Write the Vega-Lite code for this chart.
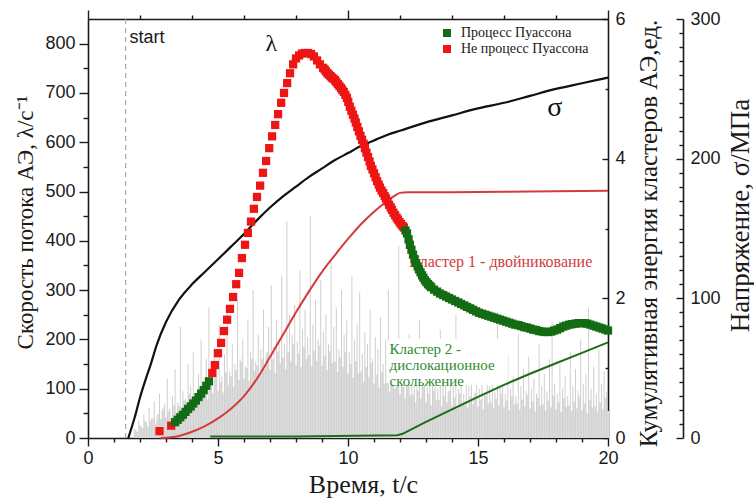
{
  "$schema": "https://vega.github.io/schema/vega-lite/v6.json",
  "width": 520,
  "height": 419,
  "autosize": {"type": "none"},
  "padding": {"left": 88, "top": 19, "right": 146, "bottom": 62},
  "background": "white",
  "config": {
    "font": "Liberation Sans",
    "view": {"stroke": null},
    "axis": {
      "domainColor": "#1a1a1a", "tickColor": "#1a1a1a", "labelColor": "#1a1a1a", "titleColor": "#1a1a1a",
      "domainWidth": 1.6, "tickWidth": 1.4, "labelFont": "Liberation Sans", "labelFontSize": 18,
      "titleFont": "Liberation Serif", "titleFontWeight": "normal", "grid": false, "labelFlush": false, "labelOverlap": false
    }
  },
  "datasets": {
    "gbase": [
      {"t":1.8,"a":18},{"t":1.9,"a":12},{"t":2.0,"a":26},{"t":2.1,"a":20},{"t":2.2,"a":34},{"t":2.3,"a":22},{"t":2.4,"a":34},
      {"t":2.5,"a":40},{"t":2.6,"a":28},{"t":2.7,"a":48},{"t":2.8,"a":38},{"t":2.9,"a":60},{"t":3.0,"a":42},{"t":3.1,"a":55},{"t":3.2,"a":40},{"t":3.3,"a":66},{"t":3.4,"a":52},
      {"t":3.5,"a":65},{"t":3.6,"a":52},{"t":3.7,"a":76},{"t":3.8,"a":64},{"t":3.9,"a":90},{"t":4.0,"a":66},{"t":4.1,"a":84},{"t":4.2,"a":64},{"t":4.3,"a":100},{"t":4.4,"a":84},
      {"t":4.5,"a":95},{"t":4.6,"a":78},{"t":4.7,"a":108},{"t":4.8,"a":90},{"t":4.9,"a":124},{"t":5.0,"a":96},{"t":5.1,"a":114},{"t":5.2,"a":92},{"t":5.3,"a":132},{"t":5.4,"a":108},
      {"t":5.5,"a":125},{"t":5.6,"a":104},{"t":5.7,"a":138},{"t":5.8,"a":118},{"t":5.9,"a":155},{"t":6.0,"a":120},{"t":6.1,"a":142},{"t":6.2,"a":116},{"t":6.3,"a":160},{"t":6.4,"a":136},
      {"t":6.5,"a":148},{"t":6.6,"a":126},{"t":6.7,"a":160},{"t":6.8,"a":140},{"t":6.9,"a":174},{"t":7.0,"a":138},{"t":7.1,"a":160},{"t":7.2,"a":132},{"t":7.3,"a":176},{"t":7.4,"a":152},
      {"t":7.5,"a":163},{"t":7.6,"a":140},{"t":7.7,"a":175},{"t":7.8,"a":155},{"t":7.9,"a":190},{"t":8.0,"a":148},{"t":8.1,"a":172},{"t":8.2,"a":144},{"t":8.3,"a":185},{"t":8.4,"a":160},
      {"t":8.5,"a":168},{"t":8.6,"a":146},{"t":8.7,"a":178},{"t":8.8,"a":156},{"t":8.9,"a":188},{"t":9.0,"a":146},{"t":9.1,"a":166},{"t":9.2,"a":138},{"t":9.3,"a":176},{"t":9.4,"a":152},
      {"t":9.5,"a":155},{"t":9.6,"a":134},{"t":9.7,"a":164},{"t":9.8,"a":144},{"t":9.9,"a":174},{"t":10.0,"a":130},{"t":10.1,"a":150},{"t":10.2,"a":122},{"t":10.3,"a":156},{"t":10.4,"a":132},
      {"t":10.5,"a":135},{"t":10.6,"a":114},{"t":10.7,"a":144},{"t":10.8,"a":124},{"t":10.9,"a":152},{"t":11.0,"a":110},{"t":11.1,"a":128},{"t":11.2,"a":102},{"t":11.3,"a":134},{"t":11.4,"a":110},
      {"t":11.5,"a":112},{"t":11.6,"a":94},{"t":11.7,"a":120},{"t":11.8,"a":100},{"t":11.9,"a":128},{"t":12.0,"a":88},{"t":12.1,"a":104},{"t":12.2,"a":80},{"t":12.3,"a":108},{"t":12.4,"a":86},
      {"t":12.5,"a":88},{"t":12.6,"a":72},{"t":12.7,"a":96},{"t":12.8,"a":80},{"t":12.9,"a":104},{"t":13.0,"a":72},{"t":13.1,"a":90},{"t":13.2,"a":66},{"t":13.3,"a":96},{"t":13.4,"a":76},
      {"t":13.5,"a":78},{"t":13.6,"a":64},{"t":13.7,"a":86},{"t":13.8,"a":72},{"t":13.9,"a":96},{"t":14.0,"a":66},{"t":14.1,"a":82},{"t":14.2,"a":60},{"t":14.3,"a":90},{"t":14.4,"a":72},
      {"t":14.5,"a":75},{"t":14.6,"a":62},{"t":14.7,"a":84},{"t":14.8,"a":68},{"t":14.9,"a":92},{"t":15.0,"a":64},{"t":15.1,"a":78},{"t":15.2,"a":58},{"t":15.3,"a":86},{"t":15.4,"a":70},
      {"t":15.5,"a":72},{"t":15.6,"a":60},{"t":15.7,"a":80},{"t":15.8,"a":66},{"t":15.9,"a":90},{"t":16.0,"a":62},{"t":16.1,"a":76},{"t":16.2,"a":56},{"t":16.3,"a":84},{"t":16.4,"a":68},
      {"t":16.5,"a":70},{"t":16.6,"a":58},{"t":16.7,"a":78},{"t":16.8,"a":64},{"t":16.9,"a":88},{"t":17.0,"a":60},{"t":17.1,"a":74},{"t":17.2,"a":54},{"t":17.3,"a":82},{"t":17.4,"a":66},
      {"t":17.5,"a":68},{"t":17.6,"a":56},{"t":17.7,"a":76},{"t":17.8,"a":62},{"t":17.9,"a":86},{"t":18.0,"a":58},{"t":18.1,"a":72},{"t":18.2,"a":52},{"t":18.3,"a":80},{"t":18.4,"a":64},
      {"t":18.5,"a":66},{"t":18.6,"a":55},{"t":18.7,"a":74},{"t":18.8,"a":60},{"t":18.9,"a":84},{"t":19.0,"a":56},{"t":19.1,"a":70},{"t":19.2,"a":50},{"t":19.3,"a":78},{"t":19.4,"a":62},
      {"t":19.5,"a":64},{"t":19.6,"a":54},{"t":19.7,"a":72},{"t":19.8,"a":58},{"t":19.9,"a":82},{"t":20.0,"a":55}
    ],
    "gray": [
      {"t":1.85,"a":15},{"t":1.95,"a":35},{"t":2.05,"a":22},{"t":2.15,"a":48},{"t":2.25,"a":30},{"t":2.35,"a":62},{"t":2.45,"a":40},{"t":2.55,"a":75},{"t":2.65,"a":38},{"t":2.75,"a":90},
      {"t":2.85,"a":55},{"t":2.95,"a":70},{"t":3.05,"a":120},{"t":3.15,"a":60},{"t":3.25,"a":85},{"t":3.35,"a":140},{"t":3.45,"a":72},{"t":3.55,"a":225},{"t":3.65,"a":95},{"t":3.75,"a":80},
      {"t":3.85,"a":150},{"t":3.95,"a":105},{"t":4.05,"a":175},{"t":4.15,"a":90},{"t":4.25,"a":130},{"t":4.35,"a":200},{"t":4.45,"a":110},{"t":4.55,"a":160},{"t":4.65,"a":265},{"t":4.75,"a":120},
      {"t":4.85,"a":185},{"t":4.95,"a":140},{"t":5.05,"a":230},{"t":5.15,"a":125},{"t":5.25,"a":170},{"t":5.35,"a":255},{"t":5.45,"a":135},{"t":5.55,"a":190},{"t":5.65,"a":150},{"t":5.75,"a":280},
      {"t":5.85,"a":160},{"t":5.95,"a":200},{"t":6.05,"a":145},{"t":6.15,"a":240},{"t":6.25,"a":175},{"t":6.35,"a":300},{"t":6.45,"a":155},{"t":6.55,"a":210},{"t":6.65,"a":180},{"t":6.75,"a":260},
      {"t":6.85,"a":165},{"t":6.95,"a":225},{"t":7.05,"a":310},{"t":7.15,"a":185},{"t":7.25,"a":240},{"t":7.35,"a":200},{"t":7.45,"a":330},{"t":7.55,"a":190},{"t":7.65,"a":440},{"t":7.75,"a":250},
      {"t":7.85,"a":210},{"t":7.95,"a":270},{"t":8.05,"a":195},{"t":8.15,"a":340},{"t":8.25,"a":220},{"t":8.35,"a":260},{"t":8.45,"a":205},{"t":8.55,"a":450},{"t":8.65,"a":230},{"t":8.75,"a":280},
      {"t":8.85,"a":200},{"t":8.95,"a":320},{"t":9.05,"a":215},{"t":9.15,"a":250},{"t":9.25,"a":190},{"t":9.35,"a":360},{"t":9.45,"a":225},{"t":9.55,"a":265},{"t":9.65,"a":180},{"t":9.75,"a":300},
      {"t":9.85,"a":210},{"t":9.95,"a":240},{"t":10.05,"a":175},{"t":10.15,"a":330},{"t":10.25,"a":200},{"t":10.35,"a":230},{"t":10.45,"a":295},{"t":10.55,"a":170},{"t":10.65,"a":215},{"t":10.75,"a":190},
      {"t":10.85,"a":260},{"t":10.95,"a":160},{"t":11.05,"a":205},{"t":11.15,"a":180},{"t":11.25,"a":245},{"t":11.35,"a":150},{"t":11.45,"a":200},{"t":11.55,"a":300},{"t":11.65,"a":165},{"t":11.75,"a":190},
      {"t":11.85,"a":140},{"t":11.95,"a":390},{"t":12.05,"a":150},{"t":12.15,"a":175},{"t":12.25,"a":125},{"t":12.35,"a":210},{"t":12.45,"a":130},{"t":12.55,"a":160},{"t":12.65,"a":115},{"t":12.75,"a":240},
      {"t":12.85,"a":125},{"t":12.95,"a":150},{"t":13.05,"a":105},{"t":13.15,"a":190},{"t":13.25,"a":120},{"t":13.35,"a":140},{"t":13.45,"a":100},{"t":13.55,"a":220},{"t":13.65,"a":115},{"t":13.75,"a":135},
      {"t":13.85,"a":95},{"t":13.95,"a":170},{"t":14.05,"a":110},{"t":14.15,"a":250},{"t":14.25,"a":100},{"t":14.35,"a":125},{"t":14.45,"a":90},{"t":14.55,"a":160},{"t":14.65,"a":105},{"t":14.75,"a":130},
      {"t":14.85,"a":85},{"t":14.95,"a":200},{"t":15.05,"a":100},{"t":15.15,"a":120},{"t":15.25,"a":90},{"t":15.35,"a":150},{"t":15.45,"a":105},{"t":15.55,"a":180},{"t":15.65,"a":95},{"t":15.75,"a":255},
      {"t":15.85,"a":110},{"t":15.95,"a":130},{"t":16.05,"a":90},{"t":16.15,"a":170},{"t":16.25,"a":100},{"t":16.35,"a":125},{"t":16.45,"a":85},{"t":16.55,"a":210},{"t":16.65,"a":105},{"t":16.75,"a":140},
      {"t":16.85,"a":95},{"t":16.95,"a":165},{"t":17.05,"a":100},{"t":17.15,"a":120},{"t":17.25,"a":90},{"t":17.35,"a":190},{"t":17.45,"a":105},{"t":17.55,"a":130},{"t":17.65,"a":95},{"t":17.75,"a":160},
      {"t":17.85,"a":235},{"t":17.95,"a":110},{"t":18.05,"a":90},{"t":18.15,"a":150},{"t":18.25,"a":100},{"t":18.35,"a":125},{"t":18.45,"a":85},{"t":18.55,"a":175},{"t":18.65,"a":105},{"t":18.75,"a":140},
      {"t":18.85,"a":95},{"t":18.95,"a":200},{"t":19.05,"a":110},{"t":19.15,"a":130},{"t":19.25,"a":265},{"t":19.35,"a":100},{"t":19.45,"a":145},{"t":19.55,"a":90},{"t":19.65,"a":180},{"t":19.75,"a":110},
      {"t":19.85,"a":135},{"t":19.95,"a":95}
    ],
    "lambda": [
      {"t":2.75,"v":14,"p":"N"},{"t":3.2,"v":25,"p":"N"},
      {"t":3.35,"v":32,"p":"P"},{"t":3.45,"v":37,"p":"P"},{"t":3.55,"v":42,"p":"P"},{"t":3.65,"v":47,"p":"P"},{"t":3.75,"v":53,"p":"P"},{"t":3.85,"v":59,"p":"P"},{"t":3.95,"v":64,"p":"P"},{"t":4.05,"v":70,"p":"P"},{"t":4.15,"v":76,"p":"P"},{"t":4.25,"v":83,"p":"P"},{"t":4.35,"v":90,"p":"P"},{"t":4.45,"v":97,"p":"P"},{"t":4.55,"v":106,"p":"P"},{"t":4.65,"v":115,"p":"P"},
      {"t":4.78,"v":132,"p":"N"},{"t":4.88,"v":148,"p":"N"},{"t":5.0,"v":172,"p":"N"},{"t":5.12,"v":193,"p":"N"},{"t":5.23,"v":217,"p":"N"},{"t":5.35,"v":240,"p":"N"},{"t":5.46,"v":262,"p":"N"},{"t":5.58,"v":286,"p":"N"},{"t":5.7,"v":312,"p":"N"},{"t":5.81,"v":335,"p":"N"},
      {"t":5.92,"v":365,"p":"N"},{"t":6.04,"v":392,"p":"N"},{"t":6.15,"v":416,"p":"N"},{"t":6.27,"v":439,"p":"N"},{"t":6.38,"v":465,"p":"N"},{"t":6.5,"v":489,"p":"N"},{"t":6.62,"v":512,"p":"N"},{"t":6.73,"v":538,"p":"N"},{"t":6.85,"v":562,"p":"N"},{"t":6.97,"v":588,"p":"N"},
      {"t":7.08,"v":612,"p":"N"},{"t":7.2,"v":635,"p":"N"},{"t":7.31,"v":657,"p":"N"},{"t":7.43,"v":680,"p":"N"},{"t":7.54,"v":700,"p":"N"},{"t":7.66,"v":720,"p":"N"},{"t":7.77,"v":740,"p":"N"},{"t":7.89,"v":758,"p":"N"},{"t":8.0,"v":770,"p":"N"},{"t":8.12,"v":776,"p":"N"},
      {"t":8.23,"v":780,"p":"N"},{"t":8.35,"v":781,"p":"N"},{"t":8.46,"v":781,"p":"N"},{"t":8.58,"v":779,"p":"N"},{"t":8.69,"v":774,"p":"N"},{"t":8.81,"v":766,"p":"N"},{"t":8.92,"v":758,"p":"N"},{"t":9.04,"v":751,"p":"N"},{"t":9.1,"v":748,"p":"N"},{"t":9.15,"v":744,"p":"N"},
      {"t":9.21,"v":740,"p":"N"},{"t":9.27,"v":737,"p":"N"},{"t":9.33,"v":734,"p":"N"},{"t":9.38,"v":731,"p":"N"},{"t":9.44,"v":729,"p":"N"},{"t":9.5,"v":726,"p":"N"},{"t":9.55,"v":722,"p":"N"},{"t":9.61,"v":718,"p":"N"},{"t":9.67,"v":714,"p":"N"},{"t":9.73,"v":710,"p":"N"},
      {"t":9.78,"v":706,"p":"N"},{"t":9.84,"v":702,"p":"N"},{"t":9.9,"v":696,"p":"N"},{"t":9.96,"v":690,"p":"N"},{"t":10.01,"v":682,"p":"N"},{"t":10.07,"v":672,"p":"N"},{"t":10.13,"v":664,"p":"N"},{"t":10.19,"v":656,"p":"N"},{"t":10.25,"v":648,"p":"N"},{"t":10.3,"v":640,"p":"N"},
      {"t":10.36,"v":631,"p":"N"},{"t":10.42,"v":622,"p":"N"},{"t":10.48,"v":613,"p":"N"},{"t":10.54,"v":605,"p":"N"},{"t":10.6,"v":597,"p":"N"},{"t":10.65,"v":588,"p":"N"},{"t":10.71,"v":579,"p":"N"},{"t":10.77,"v":570,"p":"N"},{"t":10.83,"v":561,"p":"N"},{"t":10.88,"v":552,"p":"N"},
      {"t":10.94,"v":545,"p":"N"},{"t":11.0,"v":537,"p":"N"},{"t":11.06,"v":529,"p":"N"},{"t":11.12,"v":521,"p":"N"},{"t":11.18,"v":514,"p":"N"},{"t":11.23,"v":508,"p":"N"},{"t":11.29,"v":502,"p":"N"},{"t":11.35,"v":497,"p":"N"},{"t":11.41,"v":491,"p":"N"},{"t":11.46,"v":486,"p":"N"},
      {"t":11.52,"v":480,"p":"N"},{"t":11.58,"v":473,"p":"N"},{"t":11.64,"v":468,"p":"N"},{"t":11.69,"v":463,"p":"N"},{"t":11.75,"v":457,"p":"N"},{"t":11.81,"v":452,"p":"N"},{"t":11.87,"v":447,"p":"N"},{"t":11.92,"v":443,"p":"N"},{"t":11.98,"v":438,"p":"N"},{"t":12.04,"v":434,"p":"N"},
      {"t":12.1,"v":430,"p":"N"},{"t":12.15,"v":427,"p":"N"},
      {"t":12.21,"v":421,"p":"P"},{"t":12.27,"v":415,"p":"P"},{"t":12.33,"v":403,"p":"P"},{"t":12.38,"v":392,"p":"P"},{"t":12.44,"v":382,"p":"P"},{"t":12.5,"v":372,"p":"P"},{"t":12.56,"v":363,"p":"P"},{"t":12.62,"v":355,"p":"P"},{"t":12.68,"v":348,"p":"P"},{"t":12.73,"v":342,"p":"P"},
      {"t":12.79,"v":336,"p":"P"},{"t":12.85,"v":330,"p":"P"},{"t":12.9,"v":325,"p":"P"},{"t":12.96,"v":320,"p":"P"},{"t":13.02,"v":316,"p":"P"},{"t":13.08,"v":312,"p":"P"},{"t":13.14,"v":309,"p":"P"},{"t":13.2,"v":306,"p":"P"},{"t":13.31,"v":301,"p":"P"},
      {"t":13.43,"v":297,"p":"P"},{"t":13.54,"v":293,"p":"P"},{"t":13.66,"v":290,"p":"P"},{"t":13.77,"v":287,"p":"P"},{"t":13.89,"v":284,"p":"P"},{"t":14.0,"v":281,"p":"P"},{"t":14.12,"v":278,"p":"P"},{"t":14.24,"v":275,"p":"P"},{"t":14.35,"v":272,"p":"P"},{"t":14.47,"v":269,"p":"P"},
      {"t":14.58,"v":266,"p":"P"},{"t":14.7,"v":263,"p":"P"},{"t":14.81,"v":260,"p":"P"},{"t":14.93,"v":257,"p":"P"},{"t":15.04,"v":254,"p":"P"},{"t":15.16,"v":252,"p":"P"},{"t":15.28,"v":250,"p":"P"},{"t":15.39,"v":248,"p":"P"},{"t":15.51,"v":246,"p":"P"},{"t":15.62,"v":244,"p":"P"},
      {"t":15.74,"v":242,"p":"P"},{"t":15.85,"v":240,"p":"P"},{"t":15.97,"v":238,"p":"P"},{"t":16.08,"v":236,"p":"P"},{"t":16.2,"v":234,"p":"P"},{"t":16.31,"v":232,"p":"P"},{"t":16.43,"v":230,"p":"P"},{"t":16.55,"v":229,"p":"P"},{"t":16.66,"v":227,"p":"P"},{"t":16.78,"v":225,"p":"P"},
      {"t":16.89,"v":224,"p":"P"},{"t":17.01,"v":222,"p":"P"},{"t":17.12,"v":220,"p":"P"},{"t":17.24,"v":219,"p":"P"},{"t":17.35,"v":217,"p":"P"},{"t":17.47,"v":216,"p":"P"},{"t":17.58,"v":215,"p":"P"},{"t":17.7,"v":215,"p":"P"},{"t":17.82,"v":216,"p":"P"},{"t":17.93,"v":218,"p":"P"},
      {"t":18.05,"v":220,"p":"P"},{"t":18.16,"v":223,"p":"P"},{"t":18.28,"v":226,"p":"P"},{"t":18.39,"v":228,"p":"P"},{"t":18.51,"v":230,"p":"P"},{"t":18.63,"v":231,"p":"P"},{"t":18.74,"v":232,"p":"P"},{"t":18.86,"v":233,"p":"P"},{"t":18.97,"v":233,"p":"P"},{"t":19.09,"v":233,"p":"P"},
      {"t":19.2,"v":232,"p":"P"},{"t":19.32,"v":230,"p":"P"},{"t":19.44,"v":228,"p":"P"},{"t":19.55,"v":226,"p":"P"},{"t":19.67,"v":224,"p":"P"},{"t":19.78,"v":222,"p":"P"},{"t":19.9,"v":220,"p":"P"},{"t":20.0,"v":218,"p":"P"}
    ],
    "cl1": [
      {"t":2.8,"e":0},{"t":3.5,"e":0.03},{"t":4.0,"e":0.09},{"t":4.5,"e":0.17},{"t":5.0,"e":0.28},{"t":5.5,"e":0.42},{"t":6.0,"e":0.6},{"t":6.5,"e":0.85},{"t":7.0,"e":1.16},{"t":7.5,"e":1.48},
      {"t":8.0,"e":1.8},{"t":8.5,"e":2.1},{"t":9.0,"e":2.38},{"t":9.5,"e":2.62},{"t":10.0,"e":2.85},{"t":10.5,"e":3.06},{"t":11.0,"e":3.24},{"t":11.5,"e":3.39},{"t":11.8,"e":3.47},{"t":12.0,"e":3.51},
      {"t":12.3,"e":3.52},{"t":14.0,"e":3.52},{"t":17.0,"e":3.53},{"t":20.0,"e":3.54}
    ],
    "cl2": [
      {"t":4.7,"e":0.02},{"t":8.0,"e":0.02},{"t":11.9,"e":0.04},{"t":12.1,"e":0.06},{"t":13.0,"e":0.23},{"t":14.0,"e":0.41},{"t":15.0,"e":0.59},{"t":16.0,"e":0.76},{"t":17.0,"e":0.92},{"t":18.0,"e":1.07},{"t":19.0,"e":1.22},{"t":20.0,"e":1.37}
    ],
    "sigma": [
      {"t":1.55,"s":0},{"t":1.8,"s":15},{"t":2.0,"s":29},{"t":2.2,"s":41},{"t":2.4,"s":52},{"t":2.65,"s":67},{"t":3.0,"s":83},{"t":3.5,"s":99},{"t":4.0,"s":110},{"t":4.5,"s":119},
      {"t":5.0,"s":128},{"t":5.5,"s":137},{"t":6.0,"s":146},{"t":6.5,"s":156},{"t":7.0,"s":165},{"t":7.5,"s":173},{"t":8.0,"s":180},{"t":8.5,"s":187},{"t":9.0,"s":193},{"t":9.5,"s":199},
      {"t":10.0,"s":204},{"t":10.5,"s":209},{"t":11.0,"s":213},{"t":11.5,"s":217},{"t":12.0,"s":220},{"t":13.0,"s":226},{"t":14.0,"s":231},{"t":15.0,"s":236},{"t":16.0,"s":240},{"t":17.0,"s":245},
      {"t":18.0,"s":250},{"t":19.0,"s":254},{"t":20.0,"s":258}
    ],
    "dummy": [{"t": 0, "d": 0}]
  },
  "layer": [
    {
      "encoding": {
        "x": {"field": "t", "type": "quantitative", "scale": {"domain": [0, 20], "nice": false, "zero": false},
          "axis": {"orient": "bottom", "values": [0, 5, 10, 15, 20], "tickSize": 8, "labelPadding": 3,
            "title": "Время, t/с", "titleFontSize": 26, "titleX": 275, "titleY": 54, "titleBaseline": "alphabetic", "titleAlign": "center"}}
      },
      "layer": [
        {
          "data": {"name": "gbase"},
          "mark": {"type": "rule", "color": "#dcdcdc", "strokeWidth": 2.7},
          "encoding": {
            "y": {"field": "a", "type": "quantitative", "scale": {"domain": [0, 850], "nice": false},
              "axis": {"orient": "left", "values": [0,100,200,300,400,500,600,700,800], "tickSize": 9,
                "labelPadding": 4, "title": "Скорость потока АЭ, λ/с⁻¹", "titleFontSize": 23,
                "titleX": -63, "titleY": 203, "titleAngle": 270, "titleBaseline": "middle", "titleAlign": "center"}},
            "y2": {"datum": 0}
          }
        },
        {
          "data": {"name": "gray"},
          "mark": {"type": "rule", "color": "#cfcfcf", "strokeWidth": 1},
          "encoding": {"y": {"field": "a", "type": "quantitative"}, "y2": {"datum": 0}}
        },
        {
          "data": {"values": [{"t": 1.45}]},
          "mark": {"type": "rule", "color": "#999999", "strokeWidth": 1, "strokeDash": [5, 4]},
          "encoding": {}
        },
        {
          "data": {"values": [{"t": 1.6, "y": 812, "label": "start"}]},
          "mark": {"type": "text", "align": "left", "baseline": "middle", "font": "Liberation Sans", "fontSize": 18, "color": "#1a1a1a"},
          "encoding": {"y": {"field": "y", "type": "quantitative"}, "text": {"field": "label"}}
        }
      ]
    },
    {
      "encoding": {
        "x": {"field": "t", "type": "quantitative", "scale": {"domain": [0, 20], "nice": false, "zero": false},
          "axis": {"orient": "top", "values": [0, 10, 20], "labels": false, "title": null, "tickSize": 9}}
      },
      "layer": [
        {
          "data": {"values": [{"t": 11.5, "t2": 16.15, "e": 0.76, "e2": 1.42}]},
          "mark": {"type": "rect", "color": "white", "cornerRadius": 5},
          "encoding": {"x2": {"field": "t2"}, "y": {"field": "e", "type": "quantitative", "scale": {"domain": [0, 6], "nice": false}}, "y2": {"field": "e2"}}
        },
        {
          "data": {"name": "cl1"},
          "mark": {"type": "line", "color": "#d63a3a", "strokeWidth": 2, "interpolate": "monotone"},
          "encoding": {
            "y": {"field": "e", "type": "quantitative", "scale": {"domain": [0, 6], "nice": false},
              "axis": {"orient": "right", "values": [0, 2, 4, 6], "format": "d", "tickSize": -6,
                "labelPadding": 13, "title": "Кумулятивная энергия кластеров АЭ,ед.", "titleFontSize": 25,
                "titleX": 40, "titleY": 214, "titleAngle": 270, "titleBaseline": "middle", "titleAlign": "center"}}
          }
        },
        {
          "data": {"name": "cl2"},
          "mark": {"type": "line", "color": "#1e6b1e", "strokeWidth": 2},
          "encoding": {"y": {"field": "e", "type": "quantitative"}}
        },
        {
          "data": {"values": [{"t": 12.35, "e": 2.52, "label": "Кластер 1 - двойникование"}]},
          "mark": {"type": "text", "align": "left", "baseline": "middle", "font": "Liberation Serif", "fontSize": 16, "color": "#d23c3c"},
          "encoding": {"y": {"field": "e", "type": "quantitative"}, "text": {"field": "label"}}
        },
        {
          "data": {"values": [{"t": 11.6, "e": 1.28, "label": "Кластер 2 -\nдислокационное\nскольжение"}]},
          "mark": {"type": "text", "align": "left", "baseline": "middle", "font": "Liberation Serif", "fontSize": 15, "lineBreak": "\n", "lineHeight": 16, "color": "#2f8a2f"},
          "encoding": {"y": {"field": "e", "type": "quantitative"}, "text": {"field": "label"}}
        }
      ]
    },
    {
      "encoding": {
        "x": {"field": "t", "type": "quantitative", "scale": {"domain": [0, 20], "nice": false, "zero": false},
          "axis": {"orient": "bottom", "values": [1,2,3,4,6,7,8,9,11,12,13,14,16,17,18,19], "tickSize": 4, "labels": false, "domain": false, "title": null}}
      },
      "layer": [
        {
          "data": {"name": "sigma"},
          "mark": {"type": "line", "color": "#111111", "strokeWidth": 2.2, "interpolate": "monotone"},
          "encoding": {
            "y": {"field": "s", "type": "quantitative", "scale": {"domain": [0, 300], "nice": false},
              "axis": {"orient": "right", "offset": 75, "values": [0, 100, 200, 300], "tickSize": -7,
                "labelPadding": 14, "title": "Напряжение, σ/МПа", "titleFontSize": 27,
                "titleX": 57, "titleY": 196, "titleAngle": 270, "titleBaseline": "middle", "titleAlign": "center"}}
          }
        },
        {
          "data": {"values": [{"t": 17.95, "s": 236, "label": "σ"}]},
          "mark": {"type": "text", "align": "center", "baseline": "middle", "font": "Liberation Serif", "fontSize": 28, "color": "#111111"},
          "encoding": {"y": {"field": "s", "type": "quantitative"}, "text": {"field": "label"}}
        }
      ]
    },
    {
      "encoding": {
        "x": {"field": "t", "type": "quantitative", "scale": {"domain": [0, 20], "nice": false, "zero": false},
          "axis": {"orient": "top", "values": [2,4,6,8,12,14,16,18], "tickSize": 4, "labels": false, "domain": false, "title": null}}
      },
      "layer": [
        {
          "data": {"name": "lambda"},
          "mark": {"type": "square", "size": 68, "opacity": 1},
          "encoding": {
            "y": {"field": "v", "type": "quantitative", "scale": {"domain": [0, 850], "nice": false},
              "axis": {"orient": "left", "values": [50,150,250,350,450,550,650,750], "tickSize": 5, "labels": false, "domain": false, "title": null}},
            "color": {"field": "p", "type": "nominal",
              "scale": {"domain": ["P", "N"], "range": ["#136c13", "#ee1515"]},
              "legend": {"orient": "none", "legendX": 352, "legendY": 7, "title": null, "symbolType": "square", "symbolSize": 64,
                "labelFont": "Liberation Serif", "labelFontSize": 14, "labelColor": "#1a1a1a", "rowPadding": 2, "labelOffset": 7,
                "labelExpr": "datum.value === 'P' ? 'Процесс Пуассона' : 'Не процесс Пуассона'"}}
          }
        },
        {
          "data": {"values": [{"t": 7.05, "v": 800, "label": "λ"}]},
          "mark": {"type": "text", "align": "center", "baseline": "middle", "font": "Liberation Serif", "fontSize": 24, "color": "#111111"},
          "encoding": {"y": {"field": "v", "type": "quantitative"}, "text": {"field": "label"}}
        }
      ]
    },
    {
      "data": {"name": "dummy"},
      "mark": {"type": "point", "opacity": 0},
      "encoding": {
        "x": {"field": "t", "type": "quantitative", "scale": {"domain": [0, 20], "nice": false, "zero": false}, "axis": null},
        "y": {"field": "d", "type": "quantitative", "scale": {"domain": [0, 6], "nice": false},
          "axis": {"orient": "right", "values": [1, 3, 5], "tickSize": -3, "labels": false, "domain": false, "title": null}}
      }
    },
    {
      "data": {"name": "dummy"},
      "mark": {"type": "point", "opacity": 0},
      "encoding": {
        "x": {"field": "t", "type": "quantitative", "scale": {"domain": [0, 20], "nice": false, "zero": false}, "axis": null},
        "y": {"field": "d", "type": "quantitative", "scale": {"domain": [0, 300], "nice": false},
          "axis": {"orient": "right", "offset": 75, "values": [10,20,30,40,50,60,70,80,90,110,120,130,140,150,160,170,180,190,210,220,230,240,250,260,270,280,290], "tickSize": -4, "labels": false, "domain": false, "title": null}}
      }
    }
  ],
  "resolve": {"scale": {"x": "independent", "y": "independent"}}
}
